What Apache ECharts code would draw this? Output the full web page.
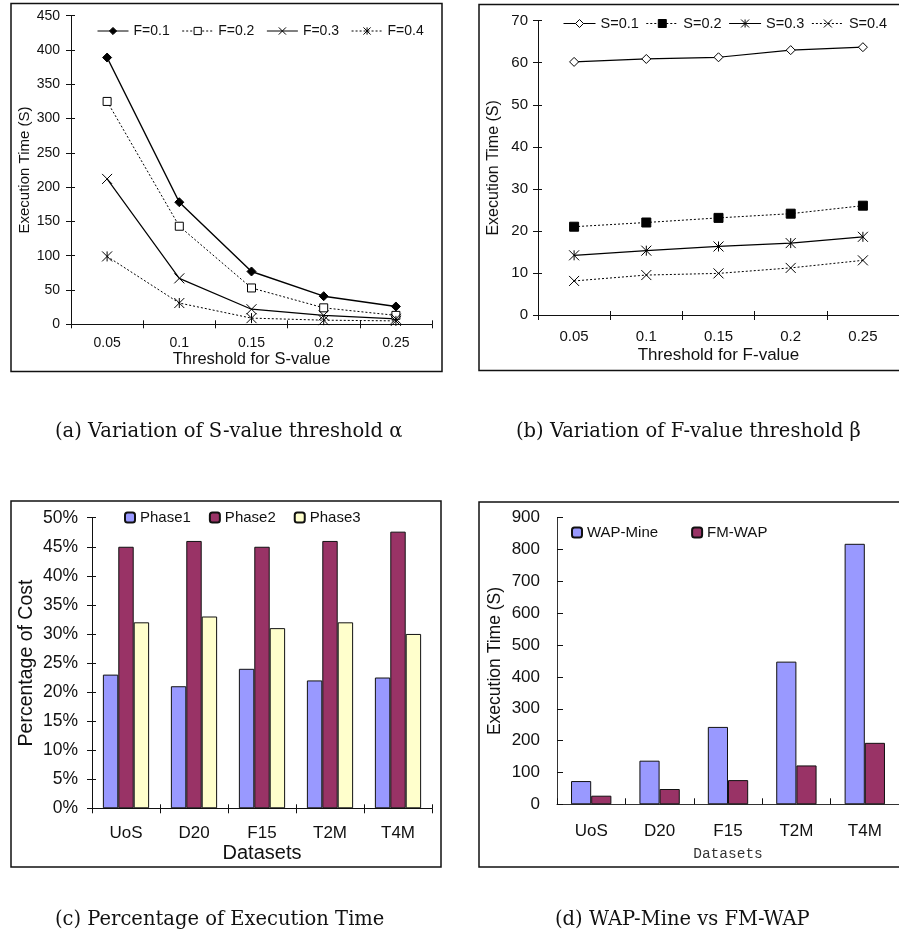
<!DOCTYPE html>
<html>
<head>
<meta charset="utf-8">
<script src="https://cdn.jsdelivr.net/npm/echarts@6/dist/echarts.min.js"></script>
<style>
html,body{margin:0;padding:0;background:#fff;}
#main{width:899px;height:943px;}
</style>
</head>
<body>
<div id="main"></div>
<script>
// ---- Data ----
// (a) Variation of S-value threshold
const catA = ['0.05', '0.1', '0.15', '0.2', '0.25'];
const seriesNamesA = ['F=0.1', 'F=0.2', 'F=0.3', 'F=0.4'];
const aF01 = [389, 178, 77, 41, 26];
const aF02 = [325, 143, 53, 24, 13];
const aF03 = [212, 67, 22, 13, 8];
const aF04 = [99, 31, 9, 6, 5];
// (b) Variation of F-value threshold
const catB = ['0.05', '0.1', '0.15', '0.2', '0.25'];
const seriesNamesB = ['S=0.1', 'S=0.2', 'S=0.3', 'S=0.4'];
const bS01 = [60.2, 60.9, 61.3, 63.0, 63.7];
const bS02 = [21.0, 22.0, 23.1, 24.1, 26.0];
const bS03 = [14.2, 15.3, 16.3, 17.1, 18.6];
const bS04 = [8.1, 9.5, 9.9, 11.2, 13.0];
// (c) Percentage of execution time
const catC = ['UoS', 'D20', 'F15', 'T2M', 'T4M'];
const phase1 = [23, 21, 24, 22, 22.5];
const phase2 = [45, 46, 45, 46, 47.6];
const phase3 = [32, 33, 31, 32, 30];
// (d) WAP-Mine vs FM-WAP
const catD = ['UoS', 'D20', 'F15', 'T2M', 'T4M'];
const wapMine = [73, 137, 243, 448, 818];
const fmWap = [27, 48, 76, 122, 193];
// Captions
const captions = ['(a) Variation of S-value threshold α', '(b) Variation of F-value threshold β',
                  '(c) Percentage of Execution Time', '(d) WAP-Mine vs FM-WAP'];

// ---- Styles ----
const FONT = 'Arial, "Liberation Sans", sans-serif';
const XPATH = 'path://M0 0 L10 10 M10 0 L0 10';
const STARPATH = 'path://M0 0 L10 10 M10 0 L0 10 M5 0 L5 10';

function catAxis(grid, data, fs, margin, tickLen, inside, extra) {
  return Object.assign({
    type: 'category', gridIndex: grid, data: data, position: 'bottom',
    axisLine: {show: true, onZero: false, lineStyle: {color: '#111', width: 1}},
    axisTick: {show: true, inside: inside, length: tickLen, lineStyle: {color: '#111'}},
    axisLabel: {fontFamily: FONT, fontSize: fs, color: '#111', margin: margin},
    splitLine: {show: false}
  }, extra || {});
}
function valAxis(grid, min, max, interval, fs, margin, tickLen, inside, extra) {
  return Object.assign({
    type: 'value', gridIndex: grid, min: min, max: max, interval: interval, position: 'left',
    axisLine: {show: true, lineStyle: {color: '#111', width: 1}},
    axisTick: {show: true, inside: inside, length: tickLen, lineStyle: {color: '#111'}},
    axisLabel: {fontFamily: FONT, fontSize: fs, color: '#111', margin: margin},
    splitLine: {show: false}
  }, extra || {});
}
function secCat(grid, data) {
  return {type: 'category', gridIndex: grid, data: data, position: 'bottom',
    axisLine: {show: false, onZero: false}, axisTick: {show: true, inside: true, length: 4, lineStyle: {color: '#111'}},
    axisLabel: {show: false}, splitLine: {show: false}};
}
function secVal(grid, min, max, interval) {
  return {type: 'value', gridIndex: grid, min: min, max: max, interval: interval, position: 'left',
    axisLine: {show: false}, axisTick: {show: true, inside: true, length: 4, lineStyle: {color: '#111'}},
    axisLabel: {show: false}, splitLine: {show: false}};
}
function lineSeries(name, data, xi, yi, symbol, size, fill, lineType, lineWidth) {
  return {
    type: 'line', name: name, data: data, xAxisIndex: xi, yAxisIndex: yi,
    symbol: symbol, symbolSize: size, showAllSymbol: true,
    itemStyle: {color: fill, borderColor: '#000', borderWidth: 1},
    lineStyle: {color: '#000', width: lineWidth, type: lineType},
    emphasis: {disabled: true}, animation: false
  };
}
function barSeries(name, data, xi, yi, color, gap) {
  return {
    type: 'bar', name: name, data: data, xAxisIndex: xi, yAxisIndex: yi,
    barGap: '0%', barCategoryGap: gap,
    itemStyle: {color: color, borderColor: '#111', borderWidth: 1},
    emphasis: {disabled: true}, animation: false
  };
}

const chart = echarts.init(document.getElementById('main'), null, {renderer: 'canvas'});

const option = {
  backgroundColor: '#fff',
  animation: false,
  grid: [
    {left: 71, width: 361, top: 15.7, height: 308.6},
    {left: 538, width: 362, top: 20.7, height: 294.3},
    {left: 92, width: 340, top: 517.7, height: 290.6},
    {left: 557, width: 345, top: 517.7, height: 286.6}
  ],
  xAxis: [
    catAxis(0, catA, 14, 12, 4, false, {name: 'Threshold for S-value', nameLocation: 'middle', nameGap: 26,
      nameTextStyle: {fontFamily: FONT, fontSize: 16.5, color: '#111'}}),
    secCat(0, catA),
    catAxis(1, catB, 15, 14, 5, false, {name: 'Threshold for F-value', nameLocation: 'middle', nameGap: 32,
      nameTextStyle: {fontFamily: FONT, fontSize: 17, color: '#111'}}),
    secCat(1, catB),
    catAxis(2, catC, 17, 17, 5, false, {name: 'Datasets', nameLocation: 'middle', nameGap: 31,
      nameTextStyle: {fontFamily: FONT, fontSize: 20, color: '#111'}}),
    secCat(2, catC),
    catAxis(3, catD, 17, 19, 6, true, {name: 'Datasets', nameLocation: 'middle', nameGap: 42,
      axisLine: {show: true, onZero: false, lineStyle: {color: '#333', width: 1}},
      nameTextStyle: {fontFamily: '"Liberation Mono", monospace', fontSize: 14.5, color: '#333'}})
  ],
  yAxis: [
    valAxis(0, 0, 450, 50, 14, 11, 5, false, {name: 'Execution Time (S)', nameLocation: 'middle', nameGap: 38,
      nameTextStyle: {fontFamily: FONT, fontSize: 15, color: '#111'}}),
    secVal(0, 0, 450, 50),
    valAxis(1, 0, 70, 10, 15, 10, 5, false, {name: 'Execution Time (S)', nameLocation: 'middle', nameGap: 36,
      nameTextStyle: {fontFamily: FONT, fontSize: 16, color: '#111'}}),
    secVal(1, 0, 70, 10),
    valAxis(2, 0, 50, 5, 17.5, 14, 5, false, {name: 'Percentage of Cost', nameLocation: 'middle', nameGap: 55,
      axisLabel: {fontFamily: FONT, fontSize: 17.5, color: '#111', margin: 14, formatter: '{value}%'},
      nameTextStyle: {fontFamily: FONT, fontSize: 19.5, color: '#111'}}),
    secVal(2, 0, 50, 5),
    valAxis(3, 0, 900, 100, 17, 17, 6, true, {name: 'Execution Time (S)', nameLocation: 'middle', nameGap: 53,
      axisLine: {show: true, lineStyle: {color: '#333', width: 1}},
      nameTextStyle: {fontFamily: FONT, fontSize: 17.5, color: '#111'}})
  ],
  legend: [
    {left: 97, top: 24, padding: 0, itemWidth: 31, itemHeight: 9, itemGap: 12,
      itemStyle: {borderWidth: 1}, lineStyle: {width: 1},
      data: seriesNamesA, textStyle: {fontFamily: FONT, fontSize: 14, color: '#111'}},
    {left: 563, top: 16, padding: 0, itemWidth: 32, itemHeight: 10, itemGap: 7,
      itemStyle: {borderWidth: 1}, lineStyle: {width: 1},
      data: seriesNamesB, textStyle: {fontFamily: FONT, fontSize: 14.5, color: '#111'}},
    {left: 124, top: 510, padding: 0, itemWidth: 10, itemHeight: 10, itemGap: 18,
      data: ['Phase1', 'Phase2', 'Phase3'], textStyle: {fontFamily: FONT, fontSize: 15, color: '#111'}},
    {left: 571, top: 525, padding: 0, itemWidth: 10, itemHeight: 10, itemGap: 33,
      data: ['WAP-Mine', 'FM-WAP'], textStyle: {fontFamily: FONT, fontSize: 15, color: '#111'}}
  ],
  series: [
    lineSeries('F=0.1', aF01, 0, 0, 'diamond', 9, '#000', 'solid', 1.4),
    lineSeries('F=0.2', aF02, 0, 0, 'rect', 8, '#fff', [2, 2], 1),
    lineSeries('F=0.3', aF03, 0, 0, XPATH, 10, '#000', 'solid', 1.2),
    lineSeries('F=0.4', aF04, 0, 0, STARPATH, 10, '#000', [2, 2], 1),
    lineSeries('S=0.1', bS01, 2, 2, 'diamond', 9, '#fff', 'solid', 1.2),
    lineSeries('S=0.2', bS02, 2, 2, 'rect', 9, '#000', [2, 2], 1),
    lineSeries('S=0.3', bS03, 2, 2, STARPATH, 10, '#000', 'solid', 1.2),
    lineSeries('S=0.4', bS04, 2, 2, XPATH, 10, '#000', [2, 2], 1),
    barSeries('Phase1', phase1, 4, 4, '#9999FF', '32%'),
    barSeries('Phase2', phase2, 4, 4, '#993366', '32%'),
    barSeries('Phase3', phase3, 4, 4, '#FFFFCC', '32%'),
    barSeries('WAP-Mine', wapMine, 6, 6, '#9999FF', '41%'),
    barSeries('FM-WAP', fmWap, 6, 6, '#993366', '41%')
  ],
  graphic: [
    {type: 'rect', shape: {x: 11, y: 3.5, width: 431, height: 368}, style: {fill: 'none', stroke: '#111', lineWidth: 1.5}, z: 100},
    {type: 'rect', shape: {x: 479, y: 4.5, width: 440, height: 366}, style: {fill: 'none', stroke: '#111', lineWidth: 1.5}, z: 100},
    {type: 'rect', shape: {x: 11, y: 501, width: 430, height: 366}, style: {fill: 'none', stroke: '#111', lineWidth: 1.5}, z: 100},
    {type: 'rect', shape: {x: 479, y: 502, width: 440, height: 365}, style: {fill: 'none', stroke: '#111', lineWidth: 1.5}, z: 100},
    {type: 'text', style: {text: captions[0], x: 55, y: 432, textVerticalAlign: 'middle', font: '19.5px "DejaVu Serif", serif', fill: '#111'}},
    {type: 'text', style: {text: captions[1], x: 516, y: 432, textVerticalAlign: 'middle', font: '19.5px "DejaVu Serif", serif', fill: '#111'}},
    {type: 'text', style: {text: captions[2], x: 55, y: 920, textVerticalAlign: 'middle', font: '19.5px "DejaVu Serif", serif', fill: '#111'}},
    {type: 'text', style: {text: captions[3], x: 555, y: 920, textVerticalAlign: 'middle', font: '19.5px "DejaVu Serif", serif', fill: '#111'}}
  ]
};
chart.setOption(option);
</script>
</body>
</html>
